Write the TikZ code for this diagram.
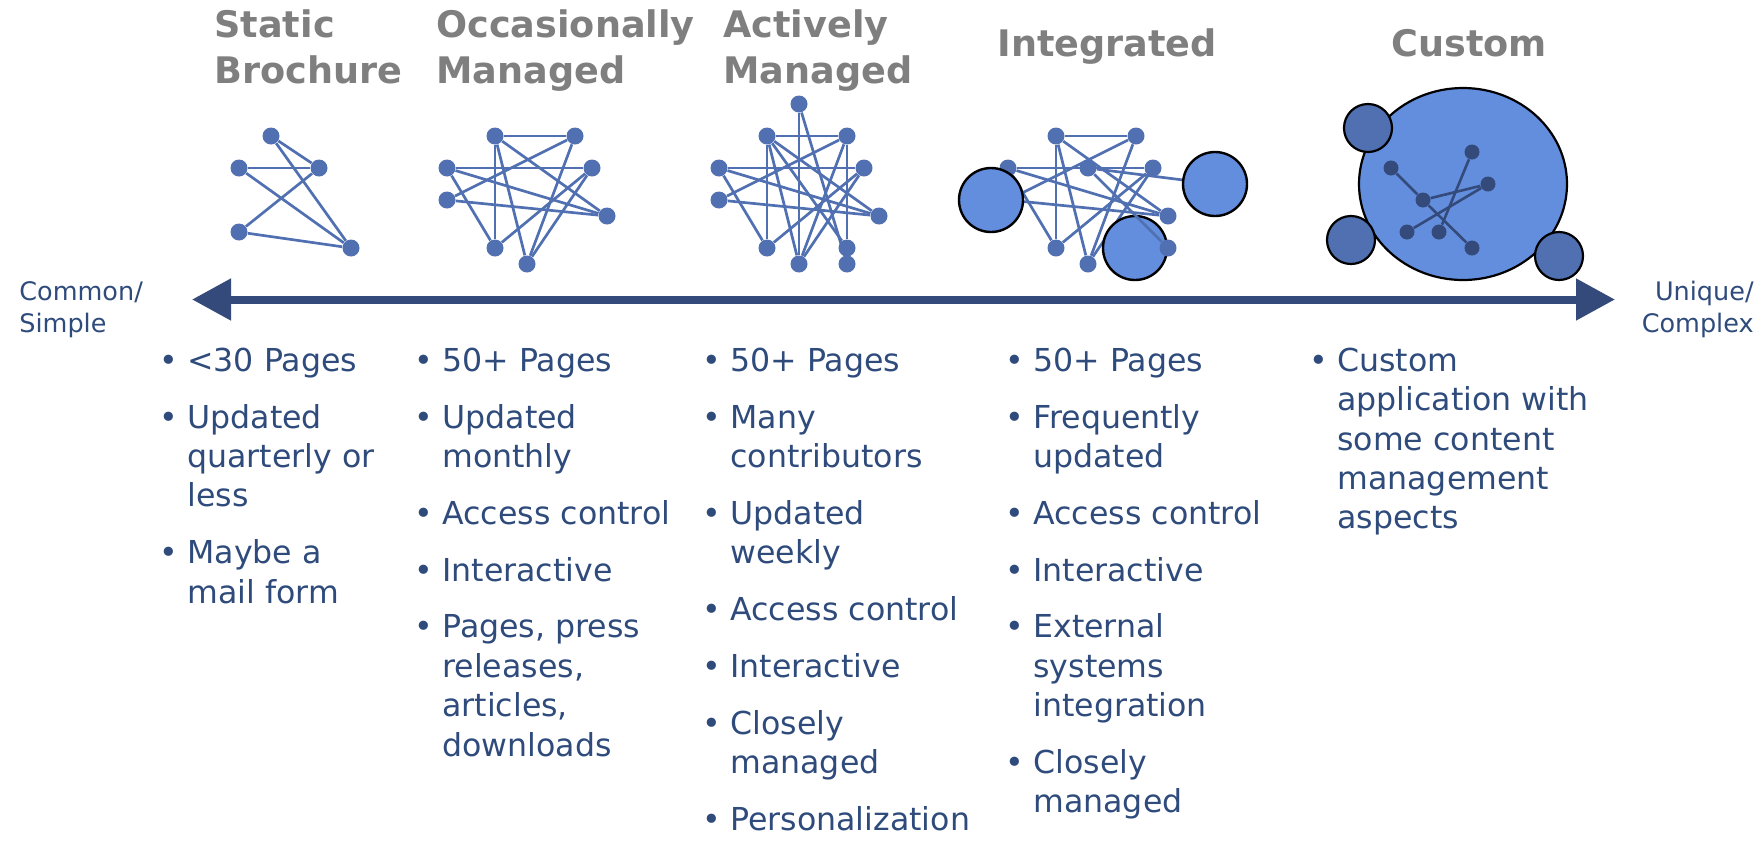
\documentclass[tikz,border=0pt]{standalone}
\usepackage{fontspec}
\setmainfont{DejaVu Sans}
\usetikzlibrary{arrows.meta, shapes.geometric, positioning}
\definecolor{titlegray}{HTML}{7F7F7F}
\definecolor{textnavy}{HTML}{2E4B7C}
\definecolor{axisnavy}{HTML}{344A7A}
\definecolor{dotblue}{HTML}{5070B2}
\definecolor{discblue}{HTML}{638EDE}
\newcommand{\bul}{\llap{\textbullet\hspace{4.5pt}}}

\tikzset{
    dot/.style={circle, fill=dotblue, inner sep=0pt, minimum size=8.5pt},
    link/.style={draw=dotblue, line width=1.35pt},
    disc/.style={circle, draw=black, line width=1.2pt, fill=discblue, inner sep=0pt, minimum size=32pt},
    smalldisc/.style={circle, draw=black, line width=1.1pt, fill=dotblue, inner sep=0pt, minimum size=24pt},
    inner/.style={circle, fill=axisnavy, inner sep=0pt, minimum size=7.5pt},
    innerlink/.style={draw=axisnavy, line width=1.3pt},
    title/.style={anchor=north west, inner sep=0pt, align=left, text=titlegray,
        font=\fontsize{18.3pt}{23pt}\selectfont\bfseries},
    column/.style={anchor=north west, inner sep=0pt, align=left, text=textnavy,
        font=\fontsize{15.8pt}{19.7pt}\selectfont},
    side/.style={inner sep=0pt, text=textnavy, font=\fontsize{12.75pt}{16pt}\selectfont},
    axis/.style={draw=axisnavy, line width=4pt,
        {Triangle[length=19.5pt,width=20pt]}-{Triangle[length=19.5pt,width=20pt]}}
}

\begin{document}
\begin{tikzpicture}[x=0.5pt, y=-0.5pt]
    \useasboundingbox (0,0) rectangle (1763,848);

    % Titles
    \node[title] (tstatic) at (214,4.8)  {\strut Static\\Brochure};
    \node[title] (toccas)  at (436,4.8)  {\strut Occasionally\\Managed};
    \node[title] (tactive) at (723,4.8)  {\strut Actively\\Managed};
    \node[title] (tinteg)  at (997,23.8) {\strut Integrated};
    \node[title] (tcustom) at (1391,23.8) {\strut Custom};

    % Static brochure
    \node[dot] (sb1) at (271,136) {};
    \node[dot] (sb2) at (239,168) {};
    \node[dot] (sb3) at (319,168) {};
    \node[dot] (sb4) at (239,232) {};
    \node[dot] (sb5) at (351,248) {};
    \draw[link]
        (sb1) edge (sb3)
        (sb1) edge (sb5)
        (sb2) edge (sb3)
        (sb2) edge (sb5)
        (sb3) edge (sb4)
        (sb4) edge (sb5);

    % Occasionally managed
    \node[dot] (om1) at (495,136) {};
    \node[dot] (om2) at (575,136) {};
    \node[dot] (om3) at (447,168) {};
    \node[dot] (om4) at (592,168) {};
    \node[dot] (om5) at (447,200) {};
    \node[dot] (om6) at (607,216) {};
    \node[dot] (om7) at (495,248) {};
    \node[dot] (om8) at (527,264) {};
    \draw[link]
        (om1) edge (om2)
        (om1) edge (om7)
        (om1) edge (om8)
        (om1) edge (om6)
        (om2) edge (om5)
        (om2) edge (om8)
        (om3) edge (om4)
        (om3) edge (om7)
        (om3) edge (om6)
        (om5) edge (om6)
        (om4) edge (om7)
        (om4) edge (om8);

    % Actively managed
    \node[dot] (am1)  at (767,136) {};
    \node[dot] (am2)  at (847,136) {};
    \node[dot] (am3)  at (719,168) {};
    \node[dot] (am4)  at (864,168) {};
    \node[dot] (am5)  at (719,200) {};
    \node[dot] (am6)  at (879,216) {};
    \node[dot] (am7)  at (767,248) {};
    \node[dot] (am8)  at (799,264) {};
    \node[dot] (am9)  at (799,104) {};
    \node[dot] (am10) at (847,248) {};
    \node[dot] (am11) at (847,264) {};
    \draw[link]
        (am1) edge (am2)
        (am1) edge (am7)
        (am1) edge (am8)
        (am1) edge (am6)
        (am2) edge (am5)
        (am2) edge (am8)
        (am3) edge (am4)
        (am3) edge (am7)
        (am3) edge (am6)
        (am5) edge (am6)
        (am4) edge (am7)
        (am4) edge (am8)
        (am9) edge (am8)
        (am9) edge (am11)
        (am2) edge (am10)
        (am1) edge (am10);

    % Integrated
    \coordinate (hub) at (1215,184);
    \node[dot] (ig1)  at (1056,136) {};
    \node[dot] (ig2)  at (1136,136) {};
    \node[dot] (ig3)  at (1008,168) {};
    \node[dot] (ig4)  at (1153,168) {};
    \node[dot] (ig5)  at (1008,200) {};
    \node[dot] (ig6)  at (1168,216) {};
    \node[dot] (ig7)  at (1056,248) {};
    \node[dot] (ig8)  at (1088,264) {};
    \node[dot] (ig9)  at (1088,168) {};
    \draw[link]
        (ig1) edge (ig2)
        (ig1) edge (ig7)
        (ig1) edge (ig8)
        (ig1) edge (ig6)
        (ig2) edge (ig5)
        (ig2) edge (ig8)
        (ig3) edge (ig4)
        (ig3) edge (ig7)
        (ig3) edge (ig6)
        (ig5) edge (ig6)
        (ig4) edge (ig7)
        (ig4) edge (ig8)
        (ig9) edge (hub);
    \node[disc] (ds1) at (991,200)  {};
    \node[disc] (ds2) at (hub) {};
    \node[disc] (ds3) at (1135,248) {};
    \node[dot] (ig10) at (1168,248) {};
    \draw[link] (ig9) edge (ig10);

    % Custom
    \node[ellipse, draw=black, line width=1.1pt, fill=discblue, inner sep=0pt,
        minimum width=104pt, minimum height=96pt] (cbig) at (1463,184) {};
    \node[smalldisc] (cs1) at (1368,128) {};
    \node[smalldisc] (cs2) at (1351,240) {};
    \node[smalldisc] (cs3) at (1559,256) {};
    \node[inner] (cn1) at (1391,168) {};
    \node[inner] (cn2) at (1472,152) {};
    \node[inner] (cn3) at (1488,184) {};
    \node[inner] (cn4) at (1423,200) {};
    \node[inner] (cn5) at (1407,232) {};
    \node[inner] (cn6) at (1439,232) {};
    \node[inner] (cn7) at (1472,248) {};
    \draw[innerlink]
        (cn1) edge (cn4)
        (cn4) edge (cn7)
        (cn4) edge (cn3)
        (cn3) edge (cn5)
        (cn2) edge (cn6);

    % Axis
    \coordinate (lt) at (192,299.5);
    \coordinate (rt) at (1615,299.5);
    \draw[axis] (lt) -- (rt);
    \node[side, anchor=north west, align=left]  (common) at (19,277.6)   {\strut Common/\\Simple};
    \node[side, anchor=north east, align=right] (unique) at (1754,277.6) {\strut Unique/\\Complex};

    % Lists
    \node[column] (lstatic) at (187,343.4) {\strut\bul <30 Pages\\[8.7pt]
        \bul Updated\\quarterly or\\less\\[8.7pt]
        \bul Maybe a\\mail form};
    \node[column] (loccas) at (442,343.4) {\strut\bul 50+ Pages\\[8.7pt]
        \bul Updated\\monthly\\[8.7pt]
        \bul Access control\\[8.7pt]
        \bul Interactive\\[8.7pt]
        \bul Pages, press\\releases,\\articles,\\downloads};
    \node[column] (lactive) at (730,343.4) {\strut\bul 50+ Pages\\[8.7pt]
        \bul Many\\contributors\\[8.7pt]
        \bul Updated\\weekly\\[8.7pt]
        \bul Access control\\[8.7pt]
        \bul Interactive\\[8.7pt]
        \bul Closely\\managed\\[8.7pt]
        \bul Personalization};
    \node[column] (linteg) at (1033,343.4) {\strut\bul 50+ Pages\\[8.7pt]
        \bul Frequently\\updated\\[8.7pt]
        \bul Access control\\[8.7pt]
        \bul Interactive\\[8.7pt]
        \bul External\\systems\\integration\\[8.7pt]
        \bul Closely\\managed};
    \node[column] (lcustom) at (1337,343.4) {\strut\bul Custom\\application with\\some content\\management\\aspects};
\end{tikzpicture}
\end{document}
